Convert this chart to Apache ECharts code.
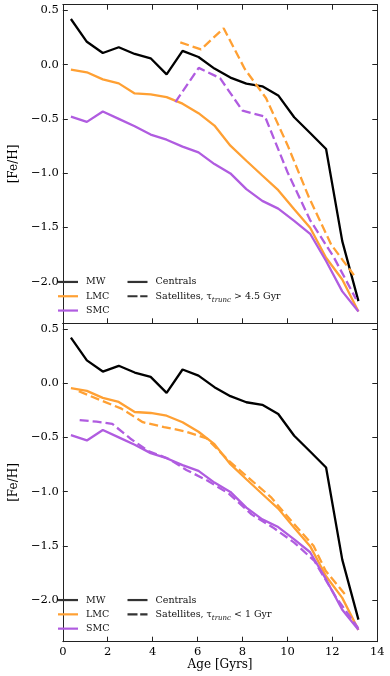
<!DOCTYPE html>
<html>
<head>
<meta charset="utf-8">
<script src="https://cdn.jsdelivr.net/npm/echarts@6/dist/echarts.min.js"></script>
<style>html,body{margin:0;padding:0;background:#fff}#c{width:390px;height:676px}</style>
</head>
<body>
<div id="c"></div>
<script>
// ---- Data ----
const ages = [0.36,1.07,1.78,2.49,3.20,3.91,4.62,5.33,6.04,6.75,7.46,8.17,8.88,9.59,10.30,11.01,11.72,12.44,13.16];
const mwFeH  = [0.42,0.21,0.107,0.16,0.098,0.058,-0.09,0.126,0.07,-0.037,-0.12,-0.176,-0.20,-0.284,-0.485,-0.63,-0.778,-1.627,-2.18];
const lmcFeH = [-0.046,-0.071,-0.136,-0.173,-0.266,-0.275,-0.30,-0.36,-0.448,-0.562,-0.747,-0.886,-1.022,-1.157,-1.333,-1.503,-1.78,-1.98,-2.275];
const smcFeH = [-0.479,-0.528,-0.432,-0.50,-0.568,-0.645,-0.692,-0.756,-0.809,-0.917,-1.003,-1.148,-1.256,-1.327,-1.44,-1.559,-1.81,-2.09,-2.275];

// Satellites, tau_trunc > 4.5 Gyr (top panel)
const lmcSatOldAges = [5.23,6.15,7.16,8.10,9.05,10.00,10.95,11.95,12.96];
const lmcSatOldFeH  = [0.205,0.14,0.335,-0.04,-0.31,-0.74,-1.22,-1.66,-1.94];
const smcSatOldAges = [5.01,6.05,7.00,8.00,9.00,10.00,11.00,12.05,13.05];
const smcSatOldFeH  = [-0.345,-0.03,-0.125,-0.425,-0.478,-0.99,-1.43,-1.77,-2.16];

// Satellites, tau_trunc < 1 Gyr (bottom panel)
const lmcSatYoungAges = [0.71,1.66,2.61,3.56,4.51,5.46,6.41,7.36,8.31,9.26,10.21,11.16,11.70,12.65];
const lmcSatYoungFeH  = [-0.075,-0.155,-0.235,-0.36,-0.405,-0.445,-0.51,-0.71,-0.88,-1.05,-1.28,-1.50,-1.73,-1.97];
const smcSatYoungAges = [0.75,1.50,2.20,3.00,3.80,4.70,5.50,6.45,7.40,8.40,9.35,10.30,11.20,12.15,13.15];
const smcSatYoungFeH  = [-0.34,-0.355,-0.375,-0.51,-0.625,-0.697,-0.80,-0.90,-1.02,-1.21,-1.33,-1.47,-1.64,-1.97,-2.26];

const xTicks = [0,2,4,6,8,10,12,14];
const yTicks = [0.5,0.0,-0.5,-1.0,-1.5,-2.0];

const SAT_OLD = 'Satellites, τtrunc > 4.5 Gyr';
const SAT_YOUNG = 'Satellites, τtrunc < 1 Gyr';

// ---- Style ----
const FONT = "'DejaVu Serif', serif";
const C_MW = '#000000', C_LMC = '#ffa033', C_SMC = '#b05ce0';
const LW = 2.3, DASH = [9, 4];
const AX = '#222';
const YMIN = -2.384, YMAX = 0.552;
const ICON_SOLID = 'path://M0,0h20v1h-20z';
const ICON_DASH = 'path://M0,0h10v1h-10zM12.7,0h7.3v1h-7.3z';

const pairs = (xs, ys) => xs.map((x, i) => [x, ys[i]]);
const fmtY = v => v.toFixed(1).replace('-', '\u2212');

function xAx(grid, pos, labels, ticks, extra) {
  return Object.assign({
    type: 'value', gridIndex: grid, position: pos, min: xTicks[0], max: xTicks[xTicks.length - 1], interval: 2,
    axisLine: { show: true, onZero: false, lineStyle: { color: AX, width: 1 } },
    axisTick: { show: ticks, inside: true, length: 5, lineStyle: { color: AX } },
    axisLabel: { show: labels, margin: 4, color: '#000', fontFamily: FONT, fontSize: 11.5 },
    splitLine: { show: false }
  }, extra || {});
}
function yAx(grid, pos, labels, extra) {
  return Object.assign({
    type: 'value', gridIndex: grid, position: pos, min: YMIN, max: YMAX, splitNumber: 6,
    axisLine: { show: true, onZero: false, lineStyle: { color: AX, width: 1 } },
    axisTick: { show: true, inside: true, length: 5, lineStyle: { color: AX } },
    axisLabel: { show: labels, margin: 4, color: '#000', fontFamily: FONT, fontSize: 11.5,
      showMinLabel: false, showMaxLabel: false, formatter: fmtY },
    splitLine: { show: false }
  }, extra || {});
}
const yName = { name: '[Fe/H]', nameLocation: 'middle', nameGap: 36, nameRotate: 90,
  nameTextStyle: { fontFamily: FONT, fontSize: 12, color: '#000' } };

function line(name, xs, ys, color, dashed, g) {
  return { name, type: 'line', xAxisIndex: g === 0 ? 0 : 2, yAxisIndex: g === 0 ? 0 : 2,
    data: pairs(xs, ys), symbol: 'none', showSymbol: false, silent: true,
    itemStyle: { color }, lineStyle: { color, width: LW, type: dashed ? DASH : 'solid' } };
}
function dummy(name, dashed) {
  return { name, type: 'line', xAxisIndex: 0, yAxisIndex: 0, data: [], symbol: 'none',
    itemStyle: { color: '#333' }, lineStyle: { color: '#333', width: LW, type: dashed ? DASH : 'solid' } };
}

const legendText = { fontFamily: FONT, fontSize: 9.5, color: '#111', lineHeight: 14.3, padding: [0, 0, 0, 3],
  rich: { sub: { fontFamily: FONT, fontSize: 7, fontStyle: 'italic', color: '#111', verticalAlign: 'bottom', lineHeight: 12 } } };
function legend(data, left, top) {
  return { data, orient: 'vertical', left, top, itemWidth: 20, itemHeight: 2.2, itemGap: 0, padding: 0,
    symbolKeepAspect: false, icon: ICON_SOLID,
    selectedMode: false, textStyle: legendText,
    formatter: n => n === SAT_OLD ? 'Satellites, τ{sub|trunc} > 4.5 Gyr' : (n === SAT_YOUNG ? 'Satellites, τ{sub|trunc} < 1 Gyr' : n) };
}
const galLegend = [
  { name: 'MW', icon: ICON_SOLID, itemStyle: { color: '#333' } },
  { name: 'LMC', icon: ICON_SOLID, itemStyle: { color: C_LMC } },
  { name: 'SMC', icon: ICON_SOLID, itemStyle: { color: C_SMC } }
];
const kindLegend = sat => [
  { name: 'Centrals', icon: ICON_SOLID, itemStyle: { color: '#333' } },
  { name: sat, icon: ICON_DASH, itemStyle: { color: '#333' } }
];

const option = {
  animation: false,
  backgroundColor: '#fff',
  grid: [
    { left: 50, top: 4.7, width: 327.3, height: 318.6 },
    { left: 50, top: 323.3, width: 327.3, height: 318.4 }
  ],
  xAxis: [
    xAx(0, 'bottom', false, true),
    xAx(0, 'top', false, true),
    xAx(1, 'bottom', true, true, { name: 'Age [Gyrs]', nameLocation: 'middle', nameGap: 15,
      nameTextStyle: { fontFamily: FONT, fontSize: 12, color: '#000', verticalAlign: 'top' } }),
    xAx(1, 'top', false, false)
  ],
  yAxis: [
    yAx(0, 'left', true, yName),
    yAx(0, 'right', false),
    yAx(1, 'left', true, yName),
    yAx(1, 'right', false)
  ],
  legend: [
    legend(galLegend, 58, 274.8),
    legend(kindLegend(SAT_OLD), 127.5, 274.8),
    legend(galLegend, 58, 592.9),
    legend(kindLegend(SAT_YOUNG), 127.5, 592.9)
  ],
  series: [
    dummy('Centrals', false),
    dummy(SAT_OLD, true),
    dummy(SAT_YOUNG, true),
    // top panel
    line('MW', ages, mwFeH, C_MW, false, 0),
    line('LMC', ages, lmcFeH, C_LMC, false, 0),
    line('SMC', ages, smcFeH, C_SMC, false, 0),
    line('LMC sat old', lmcSatOldAges, lmcSatOldFeH, C_LMC, true, 0),
    line('SMC sat old', smcSatOldAges, smcSatOldFeH, C_SMC, true, 0),
    // bottom panel
    line('MW', ages, mwFeH, C_MW, false, 1),
    line('LMC', ages, lmcFeH, C_LMC, false, 1),
    line('SMC', ages, smcFeH, C_SMC, false, 1),
    line('LMC sat young', lmcSatYoungAges, lmcSatYoungFeH, C_LMC, true, 1),
    line('SMC sat young', smcSatYoungAges, smcSatYoungFeH, C_SMC, true, 1)
  ]
};
echarts.init(document.getElementById('c'), null, { renderer: 'canvas' }).setOption(option);
</script>
</body>
</html>
